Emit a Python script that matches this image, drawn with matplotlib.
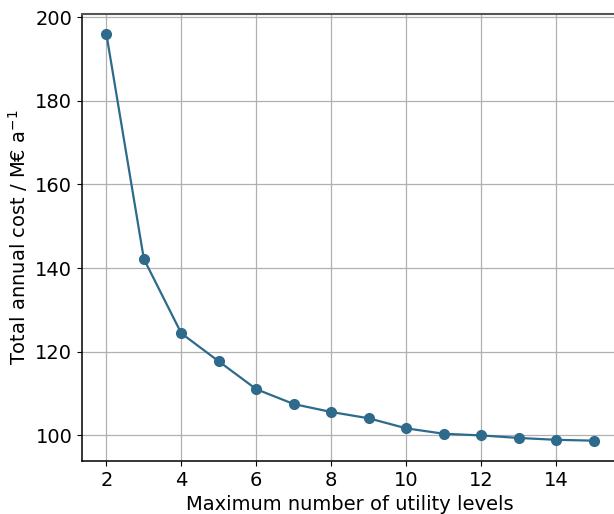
import matplotlib
matplotlib.use("Agg")
import matplotlib.pyplot as plt

levels = [2, 3, 4, 5, 6, 7, 8, 9, 10, 11, 12, 13, 14, 15]
cost = [196.0, 142.2, 124.4, 117.7, 111.05, 107.5, 105.6, 104.1, 101.7, 100.4, 100.0, 99.4, 98.95, 98.75]

fig = plt.figure(figsize=(6.14, 5.14), dpi=100)
ax = fig.add_axes([82/614, 1-461/514, (618-82)/614, (461-13.5)/514])
ax.plot(levels, cost, color="#2e6a8c", marker="o", markersize=7, linewidth=1.6, zorder=3)
ax.grid(True, color="#b0b0b0", linewidth=0.9)
ax.set_axisbelow(True)
ax.set_xticks([2, 4, 6, 8, 10, 12, 14])
ax.set_yticks([100, 120, 140, 160, 180, 200])
ax.tick_params(labelsize=14)
ax.set_xlabel("Maximum number of utility levels", fontsize=14)
ax.set_ylabel("Total annual cost / M€ a$^{-1}$", fontsize=14)
ax.spines["right"].set_visible(False)
ax.spines["top"].set_color("#555555")
ax.spines["top"].set_linewidth(1.5)
for s in ("left", "bottom"):
    ax.spines[s].set_color("black")
    ax.spines[s].set_linewidth(1.1)
fig.savefig("out.png", dpi=100)
